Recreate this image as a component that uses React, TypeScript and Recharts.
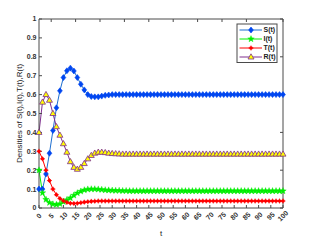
import React from 'react';
import { LineChart, Line, XAxis, YAxis } from 'recharts';

const tValues = [
  0, 1.43, 2.86, 4.29, 5.71, 7.14, 8.57, 10, 11.43, 12.86, 14.29, 15.71, 17.14, 18.57, 20,
  21.43, 22.86, 24.29, 25.71, 27.14, 28.57, 30, 31.43, 32.86, 34.29, 35.71, 37.14, 38.57, 40,
  41.43, 42.86, 44.29, 45.71, 47.14, 48.57, 50, 51.43, 52.86, 54.29, 55.71, 57.14, 58.57, 60,
  61.43, 62.86, 64.29, 65.71, 67.14, 68.57, 70, 71.43, 72.86, 74.29, 75.71, 77.14, 78.57, 80,
  81.43, 82.86, 84.29, 85.71, 87.14, 88.57, 90, 91.43, 92.86, 94.29, 95.71, 97.14, 98.57, 100,
];

const sValues = [
  0.10, 0.10, 0.18, 0.29, 0.41, 0.53, 0.62, 0.69, 0.726, 0.74, 0.725, 0.69, 0.655, 0.625, 0.60,
  0.59, 0.588, 0.588, 0.592, 0.596, 0.598, 0.60, 0.60, 0.60, 0.60, 0.60, 0.60, 0.60, 0.60,
  0.60, 0.60, 0.60, 0.60, 0.60, 0.60, 0.60, 0.60, 0.60, 0.60, 0.60, 0.60, 0.60, 0.60,
  0.60, 0.60, 0.60, 0.60, 0.60, 0.60, 0.60, 0.60, 0.60, 0.60, 0.60, 0.60, 0.60, 0.60,
  0.60, 0.60, 0.60, 0.60, 0.60, 0.60, 0.60, 0.60, 0.60, 0.60, 0.60, 0.60, 0.60, 0.60,
];

const iValues = [
  0.20, 0.08, 0.045, 0.028, 0.02, 0.018, 0.022, 0.033, 0.043, 0.053, 0.067, 0.079, 0.088, 0.095, 0.099,
  0.10, 0.10, 0.099, 0.097, 0.095, 0.094, 0.093, 0.092, 0.092, 0.091, 0.091, 0.09, 0.09, 0.09,
  0.09, 0.09, 0.09, 0.09, 0.09, 0.09, 0.09, 0.09, 0.09, 0.09, 0.09, 0.09, 0.09, 0.09,
  0.09, 0.09, 0.09, 0.09, 0.09, 0.09, 0.09, 0.09, 0.09, 0.09, 0.09, 0.09, 0.09, 0.09,
  0.09, 0.09, 0.09, 0.09, 0.09, 0.09, 0.09, 0.09, 0.09, 0.09, 0.09, 0.09, 0.09, 0.09,
];

const tcValues = [
  0.30, 0.26, 0.20, 0.145, 0.10, 0.07, 0.05, 0.038, 0.03, 0.025, 0.024, 0.025, 0.028, 0.031, 0.033,
  0.035, 0.036, 0.037, 0.037, 0.037, 0.037, 0.037, 0.037, 0.037, 0.037, 0.037, 0.037, 0.037, 0.037,
  0.037, 0.037, 0.037, 0.037, 0.037, 0.037, 0.037, 0.037, 0.037, 0.037, 0.037, 0.037, 0.037, 0.037,
  0.037, 0.037, 0.037, 0.037, 0.037, 0.037, 0.037, 0.037, 0.037, 0.037, 0.037, 0.037, 0.037, 0.037,
  0.037, 0.037, 0.037, 0.037, 0.037, 0.037, 0.037, 0.037, 0.037, 0.037, 0.037, 0.037, 0.037, 0.037,
];

const rValues = [
  0.40, 0.56, 0.60, 0.57, 0.50, 0.43, 0.385, 0.34, 0.295, 0.245, 0.215, 0.205, 0.215, 0.235, 0.26,
  0.278, 0.29, 0.295, 0.295, 0.293, 0.29, 0.288, 0.287, 0.286, 0.285, 0.285, 0.285, 0.285, 0.285,
  0.285, 0.285, 0.285, 0.285, 0.285, 0.285, 0.285, 0.285, 0.285, 0.285, 0.285, 0.285, 0.285, 0.285,
  0.285, 0.285, 0.285, 0.285, 0.285, 0.285, 0.285, 0.285, 0.285, 0.285, 0.285, 0.285, 0.285, 0.285,
  0.285, 0.285, 0.285, 0.285, 0.285, 0.285, 0.285, 0.285, 0.285, 0.285, 0.285, 0.285, 0.285, 0.285,
];

const xTicks = [0, 5, 10, 15, 20, 25, 30, 35, 40, 45, 50, 55, 60, 65, 70, 75, 80, 85, 90, 95, 100];
const yTicks = [0, 0.1, 0.2, 0.3, 0.4, 0.5, 0.6, 0.7, 0.8, 0.9, 1];
const seriesNames = ['S(t)', 'I(t)', 'T(t)', 'R(t)'];
const yLabel = 'Densities of S(t),I(t),T(t),R(t)';
const xLabel = 't';

const data = tValues.map((t, i) => ({ t, S: sValues[i], I: iValues[i], T: tcValues[i], R: rValues[i] }));

const FONT = '"Liberation Sans", Arial, sans-serif';
const AXIS = '#4a4a4a';

const S_LINE = '#1f6fd0';
const S_MARK = '#0046f0';
const I_COL = '#00ee00';
const T_COL = '#ff0000';
const R_LINE = '#7e2f8e';
const R_FILL = '#ffff00';

function starPts(cx: number, cy: number, ro: number, ri: number) {
  const pts: string[] = [];
  for (let k = 0; k < 10; k++) {
    const r = k % 2 === 0 ? ro : ri;
    const a = -Math.PI / 2 + (k * Math.PI) / 5;
    pts.push(`${cx + r * Math.cos(a)},${cy + r * Math.sin(a)}`);
  }
  return pts.join(' ');
}

const Diamond = ({ cx, cy }: any) => (
  <polygon points={`${cx},${cy - 3} ${cx + 2.4},${cy} ${cx},${cy + 3} ${cx - 2.4},${cy}`} fill={S_MARK} stroke={S_MARK} strokeWidth={0.6} />
);
const Star = ({ cx, cy }: any) => (
  <polygon points={starPts(cx, cy, 3.4, 1.4)} fill={I_COL} stroke={I_COL} strokeWidth={0.4} />
);
const Asterisk = ({ cx, cy }: any) => (
  <g>
    <circle cx={cx} cy={cy} r={1.8} fill={T_COL} />
    <line x1={cx - 2.5} y1={cy} x2={cx + 2.5} y2={cy} stroke={T_COL} strokeWidth={0.8} />
    <line x1={cx} y1={cy - 2.5} x2={cx} y2={cy + 2.5} stroke={T_COL} strokeWidth={0.8} />
  </g>
);
const Tri = ({ cx, cy }: any) => (
  <polygon points={`${cx},${cy - 3.2} ${cx + 3},${cy + 2} ${cx - 3},${cy + 2}`} fill={R_FILL} stroke={R_LINE} strokeWidth={0.8} />
);

const XTick = ({ x, y, payload }: any) => (
  <g transform={`translate(${x},${y})`}>
    <text transform="rotate(-45)" textAnchor="middle" dy="0.35em" fontSize={7} fontWeight="bold" fill="#333" fontFamily={FONT}>
      {payload.value}
    </text>
  </g>
);
const YTick = ({ x, y, payload }: any) => (
  <text x={x} y={y} dy="0.35em" textAnchor="end" fontSize={7} fontWeight="bold" fill="#333" fontFamily={FONT}>
    {payload.value}
  </text>
);
const NoTick = () => <g />;

const markers = [Diamond, Star, Asterisk, Tri];
const lineCols = [S_LINE, I_COL, T_COL, R_LINE];

export default function App() {
  return (
    <div style={{ position: 'absolute', left: 0, top: 0, width: 319, height: 242, background: '#fff' }}>
      <LineChart width={319} height={242} data={data} margin={{ top: 0, right: 0, bottom: 0, left: 0 }}>
        <XAxis
          dataKey="t" type="number" domain={[0, 100]} ticks={xTicks} interval={0}
          height={34} tickSize={-3} tickMargin={11} stroke={AXIS} tick={<XTick />}
          label={{ value: xLabel, position: 'center', dy: 8, fontSize: 8, fill: '#222', fontFamily: FONT }}
        />
        <XAxis
          xAxisId="top" orientation="top" dataKey="t" type="number" domain={[0, 100]} ticks={xTicks}
          allowDataOverflow height={19} tickSize={-3} stroke={AXIS} tick={<NoTick />}
        />
        <YAxis
          type="number" domain={[0, 1]} ticks={yTicks} interval={0} width={39}
          tickSize={-3} tickMargin={5.5} stroke={AXIS} tick={<YTick />}
          label={{ value: yLabel, angle: -90, position: 'center', dx: 0, fontSize: 8, fill: '#222', fontFamily: FONT }}
        />
        <YAxis
          yAxisId="r" orientation="right" type="number" domain={[0, 1]} ticks={yTicks} allowDataOverflow
          width={36} tickSize={-3} stroke={AXIS} tick={<NoTick />}
        />
        <Line dataKey="S" stroke={S_LINE} strokeWidth={1} isAnimationActive={false}
          dot={(p: any) => <Diamond key={`s${p.index}`} cx={p.cx} cy={p.cy} />} />
        <Line dataKey="I" stroke={I_COL} strokeWidth={1} isAnimationActive={false}
          dot={(p: any) => <Star key={`i${p.index}`} cx={p.cx} cy={p.cy} />} />
        <Line dataKey="T" stroke={T_COL} strokeWidth={1} isAnimationActive={false}
          dot={(p: any) => <Asterisk key={`t${p.index}`} cx={p.cx} cy={p.cy} />} />
        <Line dataKey="R" stroke={R_LINE} strokeWidth={1} isAnimationActive={false}
          dot={(p: any) => <Tri key={`r${p.index}`} cx={p.cx} cy={p.cy} />} />
      </LineChart>
      <svg width={42} height={40} style={{ position: 'absolute', left: 236, top: 23 }}>
        <rect x={1} y={1} width={40} height={38.5} fill="#fff" stroke={AXIS} strokeWidth={1} />
        {seriesNames.map((name, k) => {
          const y = 7 + k * 9;
          const M = markers[k];
          return (
            <g key={name}>
              <line x1={3.5} y1={y} x2={26} y2={y} stroke={lineCols[k]} strokeWidth={1} />
              <M cx={15} cy={y} />
              <text x={27.5} y={y} dy="0.35em" fontSize={7} fontWeight="bold" fill="#222" fontFamily={FONT}>{name}</text>
            </g>
          );
        })}
      </svg>
    </div>
  );
}
